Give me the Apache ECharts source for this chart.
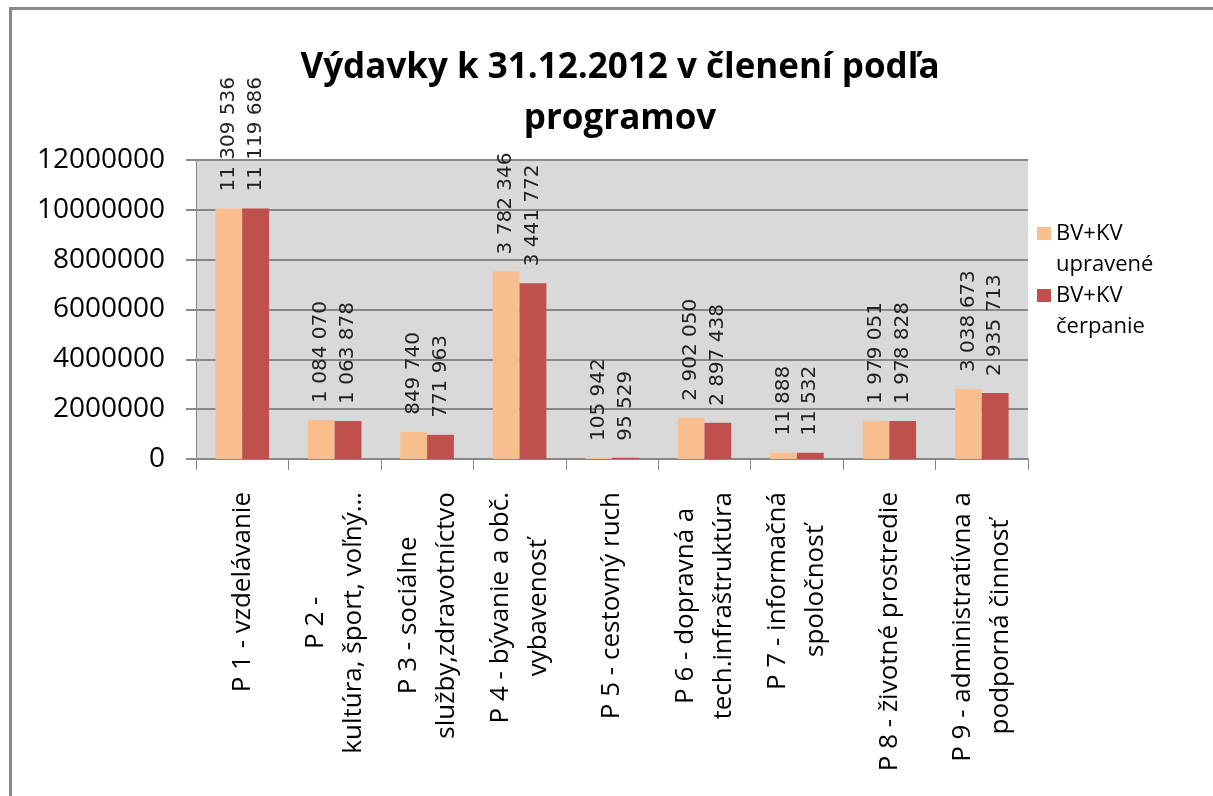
<!DOCTYPE html>
<html>
<head>
<meta charset="utf-8">
<script src="https://cdn.jsdelivr.net/npm/echarts@6/dist/echarts.min.js"></script>
<style>
  html, body { margin: 0; padding: 0; background: #fff; }
  #chart { width: 1213px; height: 796px; }
</style>
</head>
<body>
<div id="chart"></div>
<script>
// categories (line breaks as in the original axis)
const categories = [
  'P 1 - vzdelávanie',
  'P 2 -\nkultúra, šport, voľný…',
  'P 3 - sociálne\nslužby,zdravotníctvo',
  'P 4 - bývanie a obč.\nvybavenosť',
  'P 5 - cestovný ruch',
  'P 6 - dopravná a\ntech.infraštruktúra',
  'P 7 - informačná\nspoločnosť',
  'P 8 - životné prostredie',
  'P 9 - administratívna a\npodporná činnosť'
];

const seriesNames = ['BV+KV\nupravené', 'BV+KV\nčerpanie'];

// bar heights as drawn
const upravene = [10050000, 1570000, 1090000, 7530000, 40000, 1660000, 250000, 1530000, 2810000];
const cerpanie = [10050000, 1530000, 970000, 7050000, 50000, 1450000, 250000, 1530000, 2650000];

// data labels as printed above the bars
const upraveneLabels = ['11 309 536', '1 084 070', '849 740', '3 782 346', '105 942', '2 902 050', '11 888', '1 979 051', '3 038 673'];
const cerpanieLabels = ['11 119 686', '1 063 878', '771 963', '3 441 772', '95 529', '2 897 438', '11 532', '1 978 828', '2 935 713'];

const yTicks = { min: 0, max: 12000000, interval: 2000000 };

const chart = echarts.init(document.getElementById('chart'));

const barLabel = (texts) => ({
  show: true,
  position: 'top',
  rotate: 90,
  align: 'left',
  verticalAlign: 'middle',
  distance: 17,
  fontFamily: 'DejaVu Sans',
  fontSize: 20,
  color: '#222',
  formatter: (p) => texts[p.dataIndex]
});

const option = {
  backgroundColor: '#fff',
  animation: false,
  title: {
    text: 'Výdavky k 31.12.2012 v členení podľa\nprogramov',
    left: 620,
    top: 43,
    padding: 0,
    textAlign: 'center',
    textStyle: {
      fontFamily: 'Open Sans',
      fontWeight: 'bold',
      fontSize: 35,
      lineHeight: 51,
      color: '#000'
    }
  },
  legend: {
    left: 1037,
    top: 218,
    orient: 'vertical',
    padding: 0,
    itemGap: 0,
    itemWidth: 14,
    itemHeight: 44,
    icon: 'path://M0,0h14v13h-14z M0,44h14v0h-14z',
    textStyle: {
      fontFamily: 'Open Sans',
      fontSize: 22,
      lineHeight: 31,
      color: '#000'
    }
  },
  grid: {
    left: 196,
    top: 160,
    right: 185,
    bottom: 337,
    show: true,
    backgroundColor: '#d9d9d9',
    borderWidth: 0
  },
  xAxis: {
    type: 'category',
    data: categories,
    axisLine: { lineStyle: { color: '#888', width: 2 } },
    axisTick: { show: true, length: 11, lineStyle: { color: '#888', width: 1 } },
    axisLabel: {
      interval: 0,
      rotate: 90,
      margin: 33,
      fontFamily: 'Open Sans',
      fontSize: 26,
      lineHeight: 38,
      color: '#000',
      formatter: (v) => v.split('\n').map(s => '{c|' + s + '}').join('\n'),
      rich: {
        c: { align: 'center', fontFamily: 'Open Sans', fontSize: 26, lineHeight: 38, color: '#000' }
      }
    }
  },
  yAxis: {
    type: 'value',
    min: yTicks.min,
    max: yTicks.max,
    interval: yTicks.interval,
    axisLine: { show: true, lineStyle: { color: '#888', width: 1 } },
    axisTick: { show: true, length: 10, lineStyle: { color: '#888', width: 2 } },
    axisLabel: {
      margin: 31,
      fontFamily: 'Open Sans',
      fontSize: 28,
      color: '#000',
      formatter: (v) => String(v)
    },
    splitLine: { lineStyle: { color: '#888', width: 2 } }
  },
  series: [
    {
      name: seriesNames[0],
      type: 'bar',
      data: upravene,
      barGap: '0%',
      barCategoryGap: '42%',
      itemStyle: { color: '#f9be8e' },
      label: barLabel(upraveneLabels)
    },
    {
      name: seriesNames[1],
      type: 'bar',
      data: cerpanie,
      itemStyle: { color: '#c0504d' },
      label: barLabel(cerpanieLabels)
    }
  ],
  graphic: [
    {
      type: 'rect',
      shape: { x: 10.5, y: 8.5, width: 1400, height: 1000 },
      style: { fill: 'none', stroke: '#888', lineWidth: 3 },
      silent: true
    }
  ]
};

chart.setOption(option);
</script>
</body>
</html>
